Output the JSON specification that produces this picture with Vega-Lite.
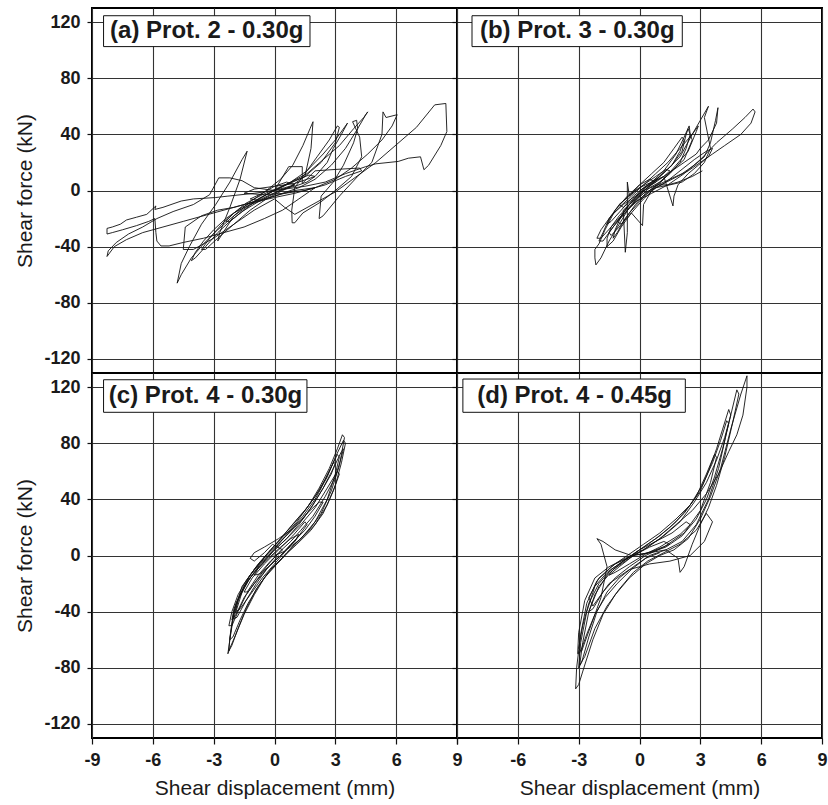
{
"$schema": "https://vega.github.io/schema/vega-lite/v6.json",
"padding": {"left": 13, "top": 7, "right": 1, "bottom": 2},
"background": "white",
"config": {
  "view": {"stroke": "#000", "strokeWidth": 2},
  "axis": {"domain": false, "gridColor": "#333", "gridWidth": 1.1, "tickColor": "#111", "tickWidth": 1.2,
    "labelFont": "Liberation Sans", "labelFontSize": 18, "labelFontWeight": "bold", "labelColor": "#1a1a1a",
    "titleFont": "Liberation Sans", "titleFontSize": 21, "titleFontWeight": "normal", "titleColor": "#1a1a1a",
    "labelFlush": false, "labelOverlap": false}
},
"datasets": {
"a": [{"i":0,"x":0,"y":0},{"i":1,"x":0.5,"y":2},{"i":2,"x":1,"y":4},{"i":3,"x":0.6,"y":6},{"i":4,"x":0,"y":3},{"i":5,"x":-0.6,"y":-2},{"i":6,"x":-1.2,"y":-6},{"i":7,"x":-0.8,"y":-7},{"i":8,"x":-0.2,"y":-3},{"i":9,"x":0.4,"y":1},{"i":10,"x":1,"y":3},{"i":11,"x":1.6,"y":6},{"i":12,"x":2,"y":10},{"i":13,"x":1.7,"y":11},{"i":14,"x":1,"y":7},{"i":15,"x":0.2,"y":2},{"i":16,"x":-0.6,"y":-3},{"i":17,"x":-1.4,"y":-9},{"i":18,"x":-2,"y":-16},{"i":19,"x":-2.4,"y":-22},{"i":20,"x":-2.2,"y":-22},{"i":21,"x":-1.6,"y":-15},{"i":22,"x":-0.8,"y":-8},{"i":23,"x":0,"y":-2},{"i":24,"x":0.8,"y":3},{"i":25,"x":1.5,"y":10},{"i":26,"x":1.8,"y":30},{"i":27,"x":1.9,"y":49},{"i":28,"x":1.75,"y":44},{"i":29,"x":1.4,"y":32},{"i":30,"x":0.9,"y":18},{"i":31,"x":0.3,"y":8},{"i":32,"x":-0.4,"y":0},{"i":33,"x":-1.2,"y":-8},{"i":34,"x":-2,"y":-18},{"i":35,"x":-2.8,"y":-36},{"i":36,"x":-2.7,"y":-30},{"i":37,"x":-2.2,"y":-12},{"i":38,"x":-1.7,"y":8},{"i":39,"x":-1.35,"y":28},{"i":40,"x":-1.6,"y":22},{"i":41,"x":-2.2,"y":6},{"i":42,"x":-2.9,"y":-10},{"i":43,"x":-3.6,"y":-24},{"i":44,"x":-4.2,"y":-40},{"i":45,"x":-4.6,"y":-52},{"i":46,"x":-4.8,"y":-66},{"i":47,"x":-4.6,"y":-60},{"i":48,"x":-4.1,"y":-48},{"i":49,"x":-3.5,"y":-38},{"i":50,"x":-2.8,"y":-28},{"i":51,"x":-2,"y":-18},{"i":52,"x":-1.2,"y":-10},{"i":53,"x":-0.3,"y":-2},{"i":54,"x":0.6,"y":4},{"i":55,"x":1.5,"y":10},{"i":56,"x":2.3,"y":20},{"i":57,"x":3,"y":34},{"i":58,"x":3.2,"y":45},{"i":59,"x":3.1,"y":46},{"i":60,"x":2.7,"y":36},{"i":61,"x":2.1,"y":24},{"i":62,"x":1.5,"y":12},{"i":63,"x":1,"y":2},{"i":64,"x":0.85,"y":-14},{"i":65,"x":0.87,"y":-23},{"i":66,"x":1,"y":-23},{"i":67,"x":1.4,"y":-16},{"i":68,"x":2.3,"y":-8},{"i":69,"x":3,"y":0},{"i":70,"x":3.8,"y":10},{"i":71,"x":4.3,"y":24},{"i":72,"x":4.2,"y":38},{"i":73,"x":3.85,"y":49},{"i":74,"x":4.05,"y":50},{"i":75,"x":4.1,"y":44},{"i":76,"x":3.9,"y":34},{"i":77,"x":3.4,"y":18},{"i":78,"x":2.9,"y":6},{"i":79,"x":2.3,"y":-4},{"i":80,"x":2.2,"y":-20},{"i":81,"x":2.4,"y":-18},{"i":82,"x":3.2,"y":-4},{"i":83,"x":4.1,"y":10},{"i":84,"x":4.8,"y":20},{"i":85,"x":5.3,"y":40},{"i":86,"x":5.35,"y":56},{"i":87,"x":5.5,"y":52},{"i":88,"x":6.05,"y":54},{"i":89,"x":5.8,"y":46},{"i":90,"x":5.3,"y":36},{"i":91,"x":4.6,"y":26},{"i":92,"x":3.8,"y":16},{"i":93,"x":3,"y":8},{"i":94,"x":2,"y":2},{"i":95,"x":1,"y":0},{"i":96,"x":0,"y":-4},{"i":97,"x":-1,"y":-8},{"i":98,"x":-2,"y":-12},{"i":99,"x":-2.8,"y":-14},{"i":100,"x":-3.6,"y":-18},{"i":101,"x":-4.4,"y":-26},{"i":102,"x":-4.5,"y":-42},{"i":103,"x":-4,"y":-42},{"i":104,"x":-3,"y":-34},{"i":105,"x":-2,"y":-24},{"i":106,"x":-1,"y":-14},{"i":107,"x":0,"y":-6},{"i":108,"x":0.5,"y":-12},{"i":109,"x":1,"y":-17},{"i":110,"x":3,"y":-1},{"i":111,"x":5,"y":20},{"i":112,"x":7,"y":45},{"i":113,"x":7.9,"y":61},{"i":114,"x":8.45,"y":62},{"i":115,"x":8.5,"y":42},{"i":116,"x":8.2,"y":32},{"i":117,"x":7.6,"y":18},{"i":118,"x":7.37,"y":14.8},{"i":119,"x":7.2,"y":24},{"i":120,"x":6.6,"y":23},{"i":121,"x":6.1,"y":20.7},{"i":122,"x":5,"y":19},{"i":123,"x":4.5,"y":17},{"i":124,"x":3.5,"y":12},{"i":125,"x":2.5,"y":6},{"i":126,"x":1.5,"y":3},{"i":127,"x":0,"y":0},{"i":128,"x":-1,"y":-2},{"i":129,"x":-2.3,"y":-4},{"i":130,"x":-2.9,"y":-5},{"i":131,"x":-4,"y":-6},{"i":132,"x":-4.6,"y":-7.5},{"i":133,"x":-5.5,"y":-12},{"i":134,"x":-5.9,"y":-13.5},{"i":135,"x":-5.85,"y":-11},{"i":136,"x":-6.3,"y":-17},{"i":137,"x":-6.8,"y":-19},{"i":138,"x":-7.3,"y":-21},{"i":139,"x":-7.6,"y":-24},{"i":140,"x":-8,"y":-26},{"i":141,"x":-8.26,"y":-27},{"i":142,"x":-8.26,"y":-31},{"i":143,"x":-8,"y":-30},{"i":144,"x":-7.5,"y":-28},{"i":145,"x":-6.8,"y":-25},{"i":146,"x":-6.2,"y":-22},{"i":147,"x":-5.9,"y":-20},{"i":148,"x":-5.85,"y":-30},{"i":149,"x":-5.8,"y":-36},{"i":150,"x":-5.6,"y":-39.5},{"i":151,"x":-5.2,"y":-39.5},{"i":152,"x":-4.5,"y":-37},{"i":153,"x":-3.5,"y":-34},{"i":154,"x":-2.5,"y":-30},{"i":155,"x":-1.5,"y":-26},{"i":156,"x":-0.5,"y":-20},{"i":157,"x":0.4,"y":-14},{"i":158,"x":1.2,"y":-6},{"i":159,"x":2,"y":2},{"i":160,"x":1,"y":-2},{"i":161,"x":0,"y":-5},{"i":162,"x":-1.5,"y":-10},{"i":163,"x":-3,"y":-16},{"i":164,"x":-4.5,"y":-22},{"i":165,"x":-5.5,"y":-26},{"i":166,"x":-6.5,"y":-30},{"i":167,"x":-7.3,"y":-35},{"i":168,"x":-7.9,"y":-40},{"i":169,"x":-8.26,"y":-47},{"i":170,"x":-8.2,"y":-43},{"i":171,"x":-7.8,"y":-37},{"i":172,"x":-7.2,"y":-31},{"i":173,"x":-6.5,"y":-26},{"i":174,"x":-5.8,"y":-20},{"i":175,"x":-5,"y":-15},{"i":176,"x":-4,"y":-10},{"i":177,"x":-3.2,"y":-3},{"i":178,"x":-2.75,"y":9},{"i":179,"x":-2.2,"y":9},{"i":180,"x":-1.6,"y":7},{"i":181,"x":-1,"y":2},{"i":182,"x":0,"y":0},{"i":183,"x":0.7,"y":17},{"i":184,"x":1.37,"y":17},{"i":185,"x":1.37,"y":5},{"i":186,"x":2,"y":14},{"i":187,"x":3,"y":15},{"i":188,"x":4.2,"y":16},{"i":189,"x":4.3,"y":14},{"i":190,"x":3.5,"y":10},{"i":191,"x":2.5,"y":4},{"i":192,"x":1.5,"y":0},{"i":193,"x":0.5,"y":-2},{"i":194,"x":-0.5,"y":-3},{"i":195,"x":-1.5,"y":-2},{"i":196,"x":-1,"y":1},{"i":197,"x":0,"y":3},{"i":198,"x":1,"y":5},{"i":199,"x":2,"y":10},{"i":200,"x":2.6,"y":20},{"i":201,"x":2.9,"y":30},{"i":202,"x":3.3,"y":40},{"i":203,"x":3.6,"y":48},{"i":204,"x":3.5,"y":46},{"i":205,"x":3,"y":36},{"i":206,"x":2.4,"y":26},{"i":207,"x":1.6,"y":14},{"i":208,"x":0.8,"y":6},{"i":209,"x":0,"y":0},{"i":210,"x":-0.8,"y":-6},{"i":211,"x":-1.6,"y":-12},{"i":212,"x":-2.4,"y":-20},{"i":213,"x":-3,"y":-28},{"i":214,"x":-3.5,"y":-36},{"i":215,"x":-3.9,"y":-44},{"i":216,"x":-4.1,"y":-50},{"i":217,"x":-3.9,"y":-48},{"i":218,"x":-3.4,"y":-40},{"i":219,"x":-2.8,"y":-30},{"i":220,"x":-2.2,"y":-22},{"i":221,"x":-1.5,"y":-14},{"i":222,"x":-0.8,"y":-6},{"i":223,"x":0,"y":0},{"i":224,"x":0.8,"y":6},{"i":225,"x":1.6,"y":12},{"i":226,"x":2.4,"y":22},{"i":227,"x":3.2,"y":32},{"i":228,"x":3.9,"y":44},{"i":229,"x":4.4,"y":52},{"i":230,"x":4.6,"y":56},{"i":231,"x":4.5,"y":54},{"i":232,"x":4.1,"y":44},{"i":233,"x":3.5,"y":30},{"i":234,"x":2.8,"y":18},{"i":235,"x":2,"y":8},{"i":236,"x":1.2,"y":2},{"i":237,"x":0.4,"y":-2},{"i":238,"x":-0.4,"y":-6},{"i":239,"x":-1.2,"y":-10},{"i":240,"x":-2,"y":-16},{"i":241,"x":-2.6,"y":-24},{"i":242,"x":-3.2,"y":-34},{"i":243,"x":-3.6,"y":-42},{"i":244,"x":-3.4,"y":-42},{"i":245,"x":-2.8,"y":-34},{"i":246,"x":-2,"y":-24},{"i":247,"x":-1.2,"y":-14},{"i":248,"x":-0.4,"y":-6},{"i":249,"x":0.4,"y":0},{"i":250,"x":1,"y":4}],
"b": [{"i":0,"x":0,"y":0},{"i":1,"x":0.4,"y":3},{"i":2,"x":0.8,"y":6},{"i":3,"x":0.5,"y":8},{"i":4,"x":0,"y":4},{"i":5,"x":-0.5,"y":-4},{"i":6,"x":-1,"y":-10},{"i":7,"x":-0.8,"y":-12},{"i":8,"x":-0.3,"y":-6},{"i":9,"x":0.2,"y":2},{"i":10,"x":0.7,"y":6},{"i":11,"x":1.2,"y":10},{"i":12,"x":1.5,"y":14},{"i":13,"x":1.3,"y":15},{"i":14,"x":0.8,"y":10},{"i":15,"x":0.2,"y":4},{"i":16,"x":-0.4,"y":-2},{"i":17,"x":-1,"y":-10},{"i":18,"x":-1.4,"y":-18},{"i":19,"x":-1.6,"y":-24},{"i":20,"x":-1.4,"y":-22},{"i":21,"x":-0.9,"y":-14},{"i":22,"x":-0.3,"y":-4},{"i":23,"x":0.4,"y":4},{"i":24,"x":1,"y":10},{"i":25,"x":1.6,"y":18},{"i":26,"x":2,"y":28},{"i":27,"x":2.2,"y":36},{"i":28,"x":2.1,"y":38},{"i":29,"x":1.7,"y":30},{"i":30,"x":1.2,"y":20},{"i":31,"x":0.6,"y":12},{"i":32,"x":0,"y":4},{"i":33,"x":-0.6,"y":-4},{"i":34,"x":-1.2,"y":-14},{"i":35,"x":-1.7,"y":-28},{"i":36,"x":-2,"y":-38},{"i":37,"x":-2.2,"y":-42},{"i":38,"x":-2.2,"y":-48},{"i":39,"x":-2.15,"y":-53},{"i":40,"x":-1.9,"y":-48},{"i":41,"x":-1.5,"y":-36},{"i":42,"x":-1,"y":-24},{"i":43,"x":-0.5,"y":-12},{"i":44,"x":0.1,"y":-2},{"i":45,"x":0.7,"y":6},{"i":46,"x":1.3,"y":14},{"i":47,"x":2,"y":24},{"i":48,"x":2.6,"y":40},{"i":49,"x":3,"y":50},{"i":50,"x":3.4,"y":60},{"i":51,"x":3.2,"y":52},{"i":52,"x":3.5,"y":30},{"i":53,"x":3.2,"y":20},{"i":54,"x":2.7,"y":12},{"i":55,"x":2.1,"y":6},{"i":56,"x":1.5,"y":4},{"i":57,"x":0.8,"y":2},{"i":58,"x":0.2,"y":-2},{"i":59,"x":-0.5,"y":-10},{"i":60,"x":-1,"y":-18},{"i":61,"x":-1.4,"y":-26},{"i":62,"x":-1.6,"y":-34},{"i":63,"x":-1.6,"y":-40},{"i":64,"x":-1.3,"y":-36},{"i":65,"x":-0.9,"y":-26},{"i":66,"x":-0.4,"y":-16},{"i":67,"x":0.2,"y":-6},{"i":68,"x":0.8,"y":2},{"i":69,"x":1.6,"y":8},{"i":70,"x":2.4,"y":14},{"i":71,"x":3,"y":20},{"i":72,"x":3.6,"y":26},{"i":73,"x":4.2,"y":32},{"i":74,"x":5,"y":40},{"i":75,"x":5.5,"y":48},{"i":76,"x":5.7,"y":56},{"i":77,"x":5.6,"y":58},{"i":78,"x":5.2,"y":52},{"i":79,"x":4.6,"y":44},{"i":80,"x":3.8,"y":34},{"i":81,"x":3,"y":22},{"i":82,"x":2.2,"y":12},{"i":83,"x":1.4,"y":4},{"i":84,"x":0.6,"y":-2},{"i":85,"x":-0.2,"y":-8},{"i":86,"x":-0.8,"y":-16},{"i":87,"x":-1.2,"y":-24},{"i":88,"x":-1.5,"y":-30},{"i":89,"x":-1.4,"y":-32},{"i":90,"x":-1,"y":-26},{"i":91,"x":-0.5,"y":-16},{"i":92,"x":0,"y":-8},{"i":93,"x":0.5,"y":0},{"i":94,"x":1,"y":6},{"i":95,"x":1.6,"y":14},{"i":96,"x":2.2,"y":22},{"i":97,"x":2.6,"y":36},{"i":98,"x":2.4,"y":44},{"i":99,"x":2.3,"y":40},{"i":100,"x":2.1,"y":28},{"i":101,"x":1.6,"y":18},{"i":102,"x":1,"y":10},{"i":103,"x":0.4,"y":2},{"i":104,"x":-0.2,"y":-6},{"i":105,"x":-0.8,"y":-14},{"i":106,"x":-0.7,"y":-44},{"i":107,"x":-0.6,"y":-30},{"i":108,"x":-0.6,"y":6},{"i":109,"x":-0.5,"y":-4},{"i":110,"x":0,"y":2},{"i":111,"x":0.6,"y":6},{"i":112,"x":1.2,"y":10},{"i":113,"x":1.65,"y":-11},{"i":114,"x":1.7,"y":-4},{"i":115,"x":1.9,"y":4},{"i":116,"x":2.4,"y":12},{"i":117,"x":2.9,"y":18},{"i":118,"x":3.4,"y":24},{"i":119,"x":3.6,"y":30},{"i":120,"x":3.3,"y":28},{"i":121,"x":2.7,"y":22},{"i":122,"x":2,"y":14},{"i":123,"x":1.3,"y":6},{"i":124,"x":0.6,"y":0},{"i":125,"x":0,"y":-6},{"i":126,"x":-0.6,"y":-14},{"i":127,"x":-1.1,"y":-22},{"i":128,"x":-0.9,"y":-24},{"i":129,"x":-0.4,"y":-16},{"i":130,"x":0.15,"y":-25},{"i":131,"x":0.2,"y":-10},{"i":132,"x":0.6,"y":0},{"i":133,"x":1.2,"y":8},{"i":134,"x":1.8,"y":18},{"i":135,"x":2.4,"y":28},{"i":136,"x":2.8,"y":42},{"i":137,"x":2.9,"y":46},{"i":138,"x":2.6,"y":40},{"i":139,"x":2,"y":30},{"i":140,"x":1.4,"y":20},{"i":141,"x":0.8,"y":12},{"i":142,"x":0.2,"y":4},{"i":143,"x":-0.4,"y":-4},{"i":144,"x":-1,"y":-12},{"i":145,"x":-1.5,"y":-20},{"i":146,"x":-1.8,"y":-30},{"i":147,"x":-2,"y":-36},{"i":148,"x":-1.8,"y":-36},{"i":149,"x":-1.3,"y":-26},{"i":150,"x":-0.7,"y":-16},{"i":151,"x":-0.1,"y":-6},{"i":152,"x":0.5,"y":2},{"i":153,"x":1,"y":6},{"i":154,"x":1.5,"y":12},{"i":155,"x":2,"y":20},{"i":156,"x":2.3,"y":30},{"i":157,"x":2.5,"y":40},{"i":158,"x":2.45,"y":46},{"i":159,"x":2.2,"y":38},{"i":160,"x":1.8,"y":26},{"i":161,"x":1.2,"y":14},{"i":162,"x":0.6,"y":6},{"i":163,"x":0,"y":-2},{"i":164,"x":-0.5,"y":-10},{"i":165,"x":-0.9,"y":-18},{"i":166,"x":-1.2,"y":-28},{"i":167,"x":-1.3,"y":-34},{"i":168,"x":-1.1,"y":-30},{"i":169,"x":-0.7,"y":-20},{"i":170,"x":-0.2,"y":-10},{"i":171,"x":0.3,"y":-2},{"i":172,"x":0.9,"y":4},{"i":173,"x":1.5,"y":8},{"i":174,"x":2.1,"y":12},{"i":175,"x":2.7,"y":18},{"i":176,"x":3.2,"y":24},{"i":177,"x":3.5,"y":34},{"i":178,"x":3.75,"y":50},{"i":179,"x":3.87,"y":59},{"i":180,"x":3.8,"y":48},{"i":181,"x":3.4,"y":36},{"i":182,"x":3,"y":30},{"i":183,"x":2.8,"y":26},{"i":184,"x":2.2,"y":20},{"i":185,"x":1.6,"y":14},{"i":186,"x":1,"y":8},{"i":187,"x":0.4,"y":2},{"i":188,"x":-0.2,"y":-4},{"i":189,"x":-0.8,"y":-10},{"i":190,"x":-1.4,"y":-18},{"i":191,"x":-1.9,"y":-28},{"i":192,"x":-2.1,"y":-34},{"i":193,"x":-1.9,"y":-34},{"i":194,"x":-1.4,"y":-26},{"i":195,"x":-0.9,"y":-18},{"i":196,"x":-0.4,"y":-8},{"i":197,"x":0.2,"y":0},{"i":198,"x":0.9,"y":4},{"i":199,"x":1.4,"y":4},{"i":200,"x":1.9,"y":6},{"i":201,"x":2.6,"y":10},{"i":202,"x":3.1,"y":14}],
"c": [{"i":0,"x":0,"y":0},{"i":1,"x":0.5,"y":3},{"i":2,"x":1,"y":10},{"i":3,"x":1.2,"y":15},{"i":4,"x":0.8,"y":12},{"i":5,"x":0.3,"y":6},{"i":6,"x":-0.3,"y":-2},{"i":7,"x":-0.8,"y":-9},{"i":8,"x":-1,"y":-14},{"i":9,"x":-0.7,"y":-13},{"i":10,"x":-0.2,"y":-7},{"i":11,"x":0.3,"y":0},{"i":12,"x":0.8,"y":8},{"i":13,"x":1.5,"y":18},{"i":14,"x":2,"y":28},{"i":15,"x":2.4,"y":38},{"i":16,"x":2.2,"y":38},{"i":17,"x":1.6,"y":30},{"i":18,"x":1,"y":20},{"i":19,"x":0.3,"y":10},{"i":20,"x":-0.5,"y":-2},{"i":21,"x":-1.2,"y":-14},{"i":22,"x":-1.6,"y":-26},{"i":23,"x":-1.9,"y":-40},{"i":24,"x":-1.7,"y":-38},{"i":25,"x":-1.2,"y":-28},{"i":26,"x":-0.6,"y":-16},{"i":27,"x":0,"y":-6},{"i":28,"x":0.6,"y":4},{"i":29,"x":1.3,"y":12},{"i":30,"x":2,"y":24},{"i":31,"x":2.6,"y":40},{"i":32,"x":3,"y":58},{"i":33,"x":3.2,"y":70},{"i":34,"x":3.1,"y":72},{"i":35,"x":2.7,"y":60},{"i":36,"x":2.2,"y":46},{"i":37,"x":1.6,"y":34},{"i":38,"x":1,"y":24},{"i":39,"x":0.3,"y":12},{"i":40,"x":-0.3,"y":2},{"i":41,"x":-1,"y":-10},{"i":42,"x":-1.6,"y":-22},{"i":43,"x":-2,"y":-40},{"i":44,"x":-2.2,"y":-58},{"i":45,"x":-2.25,"y":-68},{"i":46,"x":-2.1,"y":-64},{"i":47,"x":-1.8,"y":-52},{"i":48,"x":-1.4,"y":-38},{"i":49,"x":-0.9,"y":-24},{"i":50,"x":-0.3,"y":-12},{"i":51,"x":0.4,"y":-2},{"i":52,"x":1,"y":8},{"i":53,"x":1.7,"y":18},{"i":54,"x":2.3,"y":30},{"i":55,"x":2.8,"y":46},{"i":56,"x":3.2,"y":64},{"i":57,"x":3.45,"y":84},{"i":58,"x":3.35,"y":86},{"i":59,"x":3.1,"y":76},{"i":60,"x":2.7,"y":62},{"i":61,"x":2.2,"y":48},{"i":62,"x":1.7,"y":36},{"i":63,"x":1.1,"y":24},{"i":64,"x":0.5,"y":14},{"i":65,"x":-0.2,"y":4},{"i":66,"x":-0.8,"y":-6},{"i":67,"x":-1.3,"y":-16},{"i":68,"x":-1.7,"y":-28},{"i":69,"x":-2,"y":-42},{"i":70,"x":-2.15,"y":-55},{"i":71,"x":-2.3,"y":-70},{"i":72,"x":-2.2,"y":-66},{"i":73,"x":-1.9,"y":-56},{"i":74,"x":-1.5,"y":-42},{"i":75,"x":-1,"y":-28},{"i":76,"x":-0.5,"y":-16},{"i":77,"x":0,"y":-8},{"i":78,"x":0.6,"y":2},{"i":79,"x":1.3,"y":12},{"i":80,"x":2,"y":22},{"i":81,"x":2.6,"y":36},{"i":82,"x":3,"y":50},{"i":83,"x":3.3,"y":66},{"i":84,"x":3.5,"y":80},{"i":85,"x":3.4,"y":82},{"i":86,"x":3,"y":70},{"i":87,"x":2.6,"y":56},{"i":88,"x":2,"y":40},{"i":89,"x":1.4,"y":28},{"i":90,"x":0.8,"y":18},{"i":91,"x":0.2,"y":8},{"i":92,"x":-0.4,"y":-2},{"i":93,"x":-1,"y":-12},{"i":94,"x":-1.5,"y":-22},{"i":95,"x":-1.9,"y":-34},{"i":96,"x":-2.1,"y":-48},{"i":97,"x":-2.2,"y":-60},{"i":98,"x":-2.05,"y":-58},{"i":99,"x":-1.7,"y":-46},{"i":100,"x":-1.3,"y":-34},{"i":101,"x":-0.8,"y":-22},{"i":102,"x":-0.2,"y":-10},{"i":103,"x":0.5,"y":0},{"i":104,"x":1.1,"y":8},{"i":105,"x":1.8,"y":18},{"i":106,"x":2.4,"y":30},{"i":107,"x":2.9,"y":46},{"i":108,"x":3.2,"y":58},{"i":109,"x":3.1,"y":60},{"i":110,"x":2.6,"y":48},{"i":111,"x":2,"y":34},{"i":112,"x":1.3,"y":22},{"i":113,"x":0.6,"y":12},{"i":114,"x":0,"y":4},{"i":115,"x":-0.7,"y":-6},{"i":116,"x":-1.3,"y":-18},{"i":117,"x":-1.8,"y":-32},{"i":118,"x":-2,"y":-45},{"i":119,"x":-1.85,"y":-44},{"i":120,"x":-1.4,"y":-32},{"i":121,"x":-0.9,"y":-20},{"i":122,"x":-0.3,"y":-8},{"i":123,"x":0.3,"y":0},{"i":124,"x":1,"y":10},{"i":125,"x":1.6,"y":22},{"i":126,"x":1.5,"y":24},{"i":127,"x":0.9,"y":14},{"i":128,"x":0.2,"y":4},{"i":129,"x":-0.5,"y":-6},{"i":130,"x":-1.1,"y":-16},{"i":131,"x":-1.5,"y":-26},{"i":132,"x":-1.35,"y":-26},{"i":133,"x":-0.8,"y":-14},{"i":134,"x":-0.2,"y":-4},{"i":135,"x":0.4,"y":4},{"i":136,"x":-0.1,"y":8},{"i":137,"x":-0.5,"y":2},{"i":138,"x":-1,"y":-4},{"i":139,"x":-1.2,"y":-2},{"i":140,"x":-1,"y":2},{"i":141,"x":-0.5,"y":6},{"i":142,"x":0.2,"y":12},{"i":143,"x":0.8,"y":18},{"i":144,"x":1.4,"y":26},{"i":145,"x":1.9,"y":36},{"i":146,"x":2.4,"y":48},{"i":147,"x":2.8,"y":58},{"i":148,"x":3,"y":66},{"i":149,"x":2.9,"y":66},{"i":150,"x":2.5,"y":54},{"i":151,"x":2,"y":42},{"i":152,"x":1.5,"y":32},{"i":153,"x":0.9,"y":22},{"i":154,"x":0.3,"y":12},{"i":155,"x":-0.3,"y":2},{"i":156,"x":-0.9,"y":-8},{"i":157,"x":-1.4,"y":-18},{"i":158,"x":-1.8,"y":-28},{"i":159,"x":-2.1,"y":-40},{"i":160,"x":-2.25,"y":-50},{"i":161,"x":-2.1,"y":-50},{"i":162,"x":-1.8,"y":-40},{"i":163,"x":-1.4,"y":-28},{"i":164,"x":-0.9,"y":-18},{"i":165,"x":-0.4,"y":-8},{"i":166,"x":0.2,"y":2},{"i":167,"x":0.8,"y":10},{"i":168,"x":1.3,"y":18},{"i":169,"x":1.9,"y":28},{"i":170,"x":2.5,"y":42},{"i":171,"x":3,"y":56},{"i":172,"x":3.3,"y":70},{"i":173,"x":3.4,"y":76},{"i":174,"x":3.3,"y":74},{"i":175,"x":2.9,"y":62},{"i":176,"x":2.4,"y":48},{"i":177,"x":1.8,"y":34},{"i":178,"x":1.2,"y":22},{"i":179,"x":0.6,"y":12},{"i":180,"x":0,"y":4},{"i":181,"x":-0.6,"y":-6},{"i":182,"x":-1.2,"y":-16},{"i":183,"x":-1.7,"y":-28},{"i":184,"x":-2,"y":-38},{"i":185,"x":-2.1,"y":-46},{"i":186,"x":-1.9,"y":-42},{"i":187,"x":-1.5,"y":-30},{"i":188,"x":-1,"y":-20},{"i":189,"x":-0.4,"y":-10},{"i":190,"x":0.2,"y":0}],
"d": [{"i":0,"x":0,"y":0},{"i":1,"x":0.8,"y":4},{"i":2,"x":1.5,"y":8},{"i":3,"x":1.2,"y":10},{"i":4,"x":0.5,"y":6},{"i":5,"x":-0.3,"y":0},{"i":6,"x":-1,"y":-8},{"i":7,"x":-1.5,"y":-14},{"i":8,"x":-1.2,"y":-12},{"i":9,"x":-0.5,"y":-6},{"i":10,"x":0.3,"y":1},{"i":11,"x":1,"y":6},{"i":12,"x":2,"y":15},{"i":13,"x":2.5,"y":22},{"i":14,"x":2.3,"y":24},{"i":15,"x":1.6,"y":16},{"i":16,"x":0.8,"y":10},{"i":17,"x":0,"y":4},{"i":18,"x":-0.8,"y":-4},{"i":19,"x":-1.6,"y":-14},{"i":20,"x":-2.2,"y":-28},{"i":21,"x":-2.5,"y":-40},{"i":22,"x":-2.3,"y":-38},{"i":23,"x":-1.8,"y":-26},{"i":24,"x":-1.2,"y":-16},{"i":25,"x":-0.5,"y":-8},{"i":26,"x":0.3,"y":0},{"i":27,"x":1.2,"y":6},{"i":28,"x":2.2,"y":16},{"i":29,"x":3,"y":32},{"i":30,"x":3.5,"y":52},{"i":31,"x":3.8,"y":70},{"i":32,"x":3.7,"y":72},{"i":33,"x":3.3,"y":58},{"i":34,"x":2.8,"y":42},{"i":35,"x":2.2,"y":30},{"i":36,"x":1.5,"y":20},{"i":37,"x":0.8,"y":12},{"i":38,"x":0,"y":4},{"i":39,"x":-0.8,"y":-4},{"i":40,"x":-1.6,"y":-12},{"i":41,"x":-2.2,"y":-22},{"i":42,"x":-2.6,"y":-40},{"i":43,"x":-2.9,"y":-62},{"i":44,"x":-3,"y":-80},{"i":45,"x":-2.85,"y":-76},{"i":46,"x":-2.5,"y":-58},{"i":47,"x":-2.1,"y":-40},{"i":48,"x":-1.6,"y":-26},{"i":49,"x":-1,"y":-16},{"i":50,"x":-0.3,"y":-8},{"i":51,"x":0.5,"y":0},{"i":52,"x":1.3,"y":4},{"i":53,"x":2.1,"y":10},{"i":54,"x":2.8,"y":22},{"i":55,"x":3.4,"y":40},{"i":56,"x":3.9,"y":62},{"i":57,"x":4.3,"y":88},{"i":58,"x":4.5,"y":100},{"i":59,"x":4.4,"y":104},{"i":60,"x":4.1,"y":90},{"i":61,"x":3.8,"y":76},{"i":62,"x":3.4,"y":60},{"i":63,"x":3,"y":46},{"i":64,"x":2.5,"y":36},{"i":65,"x":1.8,"y":26},{"i":66,"x":1,"y":16},{"i":67,"x":0.2,"y":8},{"i":68,"x":-0.6,"y":0},{"i":69,"x":-1.4,"y":-8},{"i":70,"x":-2.1,"y":-18},{"i":71,"x":-2.6,"y":-34},{"i":72,"x":-2.9,"y":-56},{"i":73,"x":-3.1,"y":-80},{"i":74,"x":-3.15,"y":-95},{"i":75,"x":-3,"y":-92},{"i":76,"x":-2.7,"y":-78},{"i":77,"x":-2.3,"y":-60},{"i":78,"x":-1.8,"y":-42},{"i":79,"x":-1.2,"y":-28},{"i":80,"x":-0.5,"y":-16},{"i":81,"x":0.3,"y":-6},{"i":82,"x":1,"y":0},{"i":83,"x":1.7,"y":4},{"i":84,"x":2.4,"y":12},{"i":85,"x":3,"y":26},{"i":86,"x":3.5,"y":42},{"i":87,"x":4,"y":62},{"i":88,"x":4.5,"y":90},{"i":89,"x":5,"y":115},{"i":90,"x":5.3,"y":128},{"i":91,"x":5.3,"y":120},{"i":92,"x":5.1,"y":100},{"i":93,"x":4.8,"y":86},{"i":94,"x":4.4,"y":74},{"i":95,"x":3.9,"y":58},{"i":96,"x":3.3,"y":44},{"i":97,"x":2.6,"y":32},{"i":98,"x":1.8,"y":22},{"i":99,"x":1,"y":12},{"i":100,"x":0.2,"y":4},{"i":101,"x":-0.7,"y":-2},{"i":102,"x":-1.5,"y":-8},{"i":103,"x":-2.2,"y":-16},{"i":104,"x":-2.7,"y":-32},{"i":105,"x":-3,"y":-55},{"i":106,"x":-3.05,"y":-70},{"i":107,"x":-2.85,"y":-68},{"i":108,"x":-2.4,"y":-50},{"i":109,"x":-1.9,"y":-30},{"i":110,"x":-1.6,"y":-8},{"i":111,"x":-1.9,"y":8},{"i":112,"x":-2.1,"y":12},{"i":113,"x":-1.8,"y":10},{"i":114,"x":-1.2,"y":4},{"i":115,"x":-0.4,"y":0},{"i":116,"x":0.5,"y":2},{"i":117,"x":1.3,"y":4},{"i":118,"x":1.9,"y":-2},{"i":119,"x":2,"y":-12},{"i":120,"x":2.2,"y":-8},{"i":121,"x":2.6,"y":8},{"i":122,"x":3,"y":22},{"i":123,"x":3.4,"y":34},{"i":124,"x":3.8,"y":50},{"i":125,"x":4.2,"y":70},{"i":126,"x":4.6,"y":95},{"i":127,"x":4.9,"y":115},{"i":128,"x":4.8,"y":118},{"i":129,"x":4.5,"y":100},{"i":130,"x":4.2,"y":84},{"i":131,"x":3.8,"y":68},{"i":132,"x":3.3,"y":52},{"i":133,"x":2.7,"y":38},{"i":134,"x":2,"y":24},{"i":135,"x":1.2,"y":14},{"i":136,"x":0.4,"y":6},{"i":137,"x":-0.5,"y":-2},{"i":138,"x":-1.3,"y":-10},{"i":139,"x":-2,"y":-22},{"i":140,"x":-2.5,"y":-40},{"i":141,"x":-2.8,"y":-62},{"i":142,"x":-2.95,"y":-78},{"i":143,"x":-2.7,"y":-72},{"i":144,"x":-2.2,"y":-52},{"i":145,"x":-1.6,"y":-36},{"i":146,"x":-1,"y":-24},{"i":147,"x":-0.3,"y":-12},{"i":148,"x":0.4,"y":-4},{"i":149,"x":1.2,"y":2},{"i":150,"x":2,"y":8},{"i":151,"x":2.8,"y":18},{"i":152,"x":3.3,"y":30},{"i":153,"x":3.6,"y":24},{"i":154,"x":3.2,"y":10},{"i":155,"x":2.5,"y":0},{"i":156,"x":1.5,"y":-4},{"i":157,"x":0.5,"y":-6},{"i":158,"x":-0.5,"y":-10},{"i":159,"x":-1.5,"y":-20},{"i":160,"x":-2.3,"y":-36},{"i":161,"x":-2.5,"y":-30},{"i":162,"x":-2,"y":-16},{"i":163,"x":-1.2,"y":-6},{"i":164,"x":-0.3,"y":0},{"i":165,"x":0.5,"y":2},{"i":166,"x":1.3,"y":6},{"i":167,"x":2.1,"y":14},{"i":168,"x":2.8,"y":26},{"i":169,"x":3.3,"y":40},{"i":170,"x":3.7,"y":56},{"i":171,"x":4.1,"y":76},{"i":172,"x":4.4,"y":94},{"i":173,"x":4.3,"y":96},{"i":174,"x":4,"y":82},{"i":175,"x":3.6,"y":66},{"i":176,"x":3.1,"y":50},{"i":177,"x":2.5,"y":36},{"i":178,"x":1.8,"y":24},{"i":179,"x":1,"y":14},{"i":180,"x":0.2,"y":6},{"i":181,"x":-0.6,"y":-2},{"i":182,"x":-1.4,"y":-10},{"i":183,"x":-2,"y":-20},{"i":184,"x":-2.5,"y":-34},{"i":185,"x":-2.8,"y":-50},{"i":186,"x":-3,"y":-66},{"i":187,"x":-2.9,"y":-68},{"i":188,"x":-2.6,"y":-56},{"i":189,"x":-2.2,"y":-42},{"i":190,"x":-1.7,"y":-30},{"i":191,"x":-1.1,"y":-20},{"i":192,"x":-0.4,"y":-10},{"i":193,"x":0.3,"y":-2},{"i":194,"x":1,"y":2}]
},
"columns": 2,
"spacing": 0,
"bounds": "flush",
"concat": [
 {"width": 365, "height": 365, "layer": [
  {"data": {"name": "a"}, "mark": {"type": "line", "color": "#111", "strokeWidth": 0.9, "clip": true},
   "encoding": {
    "x": {"field": "x", "type": "quantitative", "scale": {"domain": [-9, 9], "nice": false, "zero": false},
      "axis": {"values": [-9,-7.5,-6,-4.5,-3,-1.5,0,1.5,3,4.5,6,7.5,9], "labels": false, "ticks": false, "title": null,
        "gridOpacity": {"condition": {"test": "datum.value % 3 === 0", "value": 1}, "value": 0}}},
    "y": {"field": "y", "type": "quantitative", "scale": {"domain": [-130, 130], "nice": false, "zero": false},
      "axis": {"values": [-120,-100,-80,-60,-40,-20,0,20,40,60,80,100,120], "labelExpr": "datum.value % 40 === 0 ? '' + datum.value : ''",
        "tickSize": {"condition": {"test": "datum.value % 40 === 0", "value": 5}, "value": 3},
        "gridOpacity": {"condition": {"test": "datum.value % 40 === 0", "value": 1}, "value": 0},
        "title": "Shear force (kN)", "labelPadding": 7, "titlePadding": 8}},
    "order": {"field": "i"}}},
  {"data": {"values": [{"x": -8.43, "x2": 1.75, "y": 124.5, "y2": 102.5}]}, "mark": {"type": "rect", "fill": "#fff", "stroke": "#111", "strokeWidth": 1},
   "encoding": {"x": {"field": "x", "type": "quantitative"}, "x2": {"field": "x2"}, "y": {"field": "y", "type": "quantitative"}, "y2": {"field": "y2"}}},
  {"data": {"values": [{"x": -3.34, "y": 113.5, "t": "(a) Prot. 2 - 0.30g"}]}, "mark": {"type": "text", "font": "Liberation Sans", "fontWeight": "bold", "fontSize": 24, "color": "#1a1a1a", "align": "center", "baseline": "middle"},
   "encoding": {"x": {"field": "x", "type": "quantitative"}, "y": {"field": "y", "type": "quantitative"}, "text": {"field": "t"}}}
 ]},
 {"width": 365, "height": 365, "layer": [
  {"data": {"name": "b"}, "mark": {"type": "line", "color": "#111", "strokeWidth": 0.9, "clip": true},
   "encoding": {
    "x": {"field": "x", "type": "quantitative", "scale": {"domain": [-9, 9], "nice": false, "zero": false},
      "axis": {"values": [-9,-7.5,-6,-4.5,-3,-1.5,0,1.5,3,4.5,6,7.5,9], "labels": false, "ticks": false, "title": null,
        "gridOpacity": {"condition": {"test": "datum.value % 3 === 0", "value": 1}, "value": 0}}},
    "y": {"field": "y", "type": "quantitative", "scale": {"domain": [-130, 130], "nice": false, "zero": false},
      "axis": {"values": [-120,-100,-80,-60,-40,-20,0,20,40,60,80,100,120], "labels": false,
        "tickSize": {"condition": {"test": "datum.value % 40 === 0", "value": 5}, "value": 3},
        "gridOpacity": {"condition": {"test": "datum.value % 40 === 0", "value": 1}, "value": 0},
        "title": null}},
    "order": {"field": "i"}}},
  {"data": {"values": [{"x": -8.26, "x2": 2.11, "y": 124.5, "y2": 102.5}]}, "mark": {"type": "rect", "fill": "#fff", "stroke": "#111", "strokeWidth": 1},
   "encoding": {"x": {"field": "x", "type": "quantitative"}, "x2": {"field": "x2"}, "y": {"field": "y", "type": "quantitative"}, "y2": {"field": "y2"}}},
  {"data": {"values": [{"x": -3.07, "y": 113.5, "t": "(b) Prot. 3 - 0.30g"}]}, "mark": {"type": "text", "font": "Liberation Sans", "fontWeight": "bold", "fontSize": 24, "color": "#1a1a1a", "align": "center", "baseline": "middle"},
   "encoding": {"x": {"field": "x", "type": "quantitative"}, "y": {"field": "y", "type": "quantitative"}, "text": {"field": "t"}}}
 ]},
 {"width": 365, "height": 365, "layer": [
  {"data": {"name": "c"}, "mark": {"type": "line", "color": "#111", "strokeWidth": 0.9, "clip": true},
   "encoding": {
    "x": {"field": "x", "type": "quantitative", "scale": {"domain": [-9, 9], "nice": false, "zero": false},
      "axis": {"values": [-9,-7.5,-6,-4.5,-3,-1.5,0,1.5,3,4.5,6,7.5,9], "labelExpr": "datum.value % 3 === 0 ? '' + datum.value : ''",
        "tickSize": {"condition": {"test": "datum.value % 3 === 0", "value": 6}, "value": 3},
        "gridOpacity": {"condition": {"test": "datum.value % 3 === 0", "value": 1}, "value": 0},
        "title": "Shear displacement (mm)", "labelPadding": 7, "titlePadding": 8}},
    "y": {"field": "y", "type": "quantitative", "scale": {"domain": [-130, 130], "nice": false, "zero": false},
      "axis": {"values": [-120,-100,-80,-60,-40,-20,0,20,40,60,80,100,120], "labelExpr": "datum.value % 40 === 0 ? '' + datum.value : ''",
        "tickSize": {"condition": {"test": "datum.value % 40 === 0", "value": 5}, "value": 3},
        "gridOpacity": {"condition": {"test": "datum.value % 40 === 0", "value": 1}, "value": 0},
        "title": "Shear force (kN)", "labelPadding": 7, "titlePadding": 8}},
    "order": {"field": "i"}}},
  {"data": {"values": [{"x": -8.43, "x2": 1.6, "y": 125.2, "y2": 102}]}, "mark": {"type": "rect", "fill": "#fff", "stroke": "#111", "strokeWidth": 1},
   "encoding": {"x": {"field": "x", "type": "quantitative"}, "x2": {"field": "x2"}, "y": {"field": "y", "type": "quantitative"}, "y2": {"field": "y2"}}},
  {"data": {"values": [{"x": -3.4, "y": 113.6, "t": "(c) Prot. 4 - 0.30g"}]}, "mark": {"type": "text", "font": "Liberation Sans", "fontWeight": "bold", "fontSize": 24, "color": "#1a1a1a", "align": "center", "baseline": "middle"},
   "encoding": {"x": {"field": "x", "type": "quantitative"}, "y": {"field": "y", "type": "quantitative"}, "text": {"field": "t"}}}
 ]},
 {"width": 365, "height": 365, "layer": [
  {"data": {"name": "d"}, "mark": {"type": "line", "color": "#111", "strokeWidth": 0.9, "clip": true},
   "encoding": {
    "x": {"field": "x", "type": "quantitative", "scale": {"domain": [-9, 9], "nice": false, "zero": false},
      "axis": {"values": [-9,-7.5,-6,-4.5,-3,-1.5,0,1.5,3,4.5,6,7.5,9], "labelExpr": "datum.value % 3 === 0 && datum.value !== -9 ? '' + datum.value : ''",
        "tickSize": {"condition": {"test": "datum.value % 3 === 0", "value": 6}, "value": 3},
        "gridOpacity": {"condition": {"test": "datum.value % 3 === 0", "value": 1}, "value": 0},
        "title": "Shear displacement (mm)", "labelPadding": 7, "titlePadding": 8}},
    "y": {"field": "y", "type": "quantitative", "scale": {"domain": [-130, 130], "nice": false, "zero": false},
      "axis": {"values": [-120,-100,-80,-60,-40,-20,0,20,40,60,80,100,120], "labels": false,
        "tickSize": {"condition": {"test": "datum.value % 40 === 0", "value": 5}, "value": 3},
        "gridOpacity": {"condition": {"test": "datum.value % 40 === 0", "value": 1}, "value": 0},
        "title": null}},
    "order": {"field": "i"}}},
  {"data": {"values": [{"x": -8.71, "x2": 2.26, "y": 125.7, "y2": 102}]}, "mark": {"type": "rect", "fill": "#fff", "stroke": "#111", "strokeWidth": 1},
   "encoding": {"x": {"field": "x", "type": "quantitative"}, "x2": {"field": "x2"}, "y": {"field": "y", "type": "quantitative"}, "y2": {"field": "y2"}}},
  {"data": {"values": [{"x": -3.2, "y": 113.85, "t": "(d) Prot. 4 - 0.45g"}]}, "mark": {"type": "text", "font": "Liberation Sans", "fontWeight": "bold", "fontSize": 24, "color": "#1a1a1a", "align": "center", "baseline": "middle"},
   "encoding": {"x": {"field": "x", "type": "quantitative"}, "y": {"field": "y", "type": "quantitative"}, "text": {"field": "t"}}}
 ]}
]
}
